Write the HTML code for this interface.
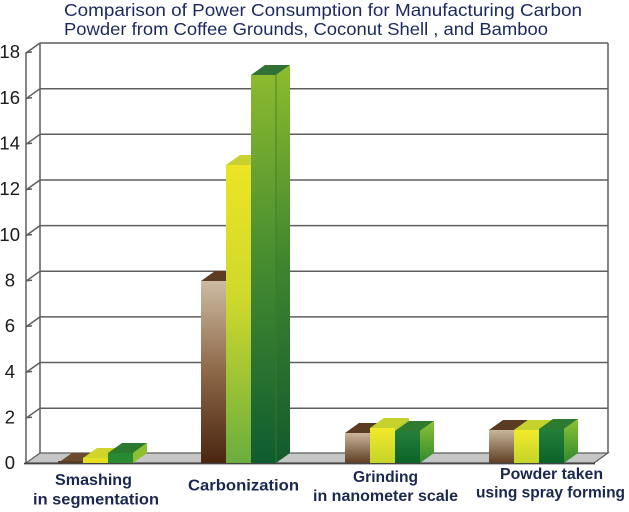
<!DOCTYPE html>
<html><head><meta charset="utf-8"><style>
html,body{margin:0;padding:0;background:#fff;}
svg{display:block;}
</style></head><body>
<svg width="629" height="512" viewBox="0 0 629 512" xmlns="http://www.w3.org/2000/svg">
<defs>
<linearGradient id="brT" x1="0" y1="0" x2="0" y2="1"><stop offset="0" stop-color="#ccbba2"/><stop offset="0.5" stop-color="#8d6747"/><stop offset="1" stop-color="#4a2611"/></linearGradient>
<linearGradient id="brS" x1="0" y1="0" x2="0" y2="1"><stop offset="0" stop-color="#c9b69c"/><stop offset="1" stop-color="#5e3e24"/></linearGradient>
<linearGradient id="yeT" x1="0" y1="0" x2="0" y2="1"><stop offset="0" stop-color="#ece424"/><stop offset="0.45" stop-color="#cfd82c"/><stop offset="1" stop-color="#6aae3e"/></linearGradient>
<linearGradient id="yeS" x1="0" y1="0" x2="0" y2="1"><stop offset="0" stop-color="#f2ea2a"/><stop offset="1" stop-color="#c6d42a"/></linearGradient>
<linearGradient id="grT" x1="0" y1="0" x2="0" y2="1"><stop offset="0" stop-color="#8cba2e"/><stop offset="0.45" stop-color="#4a8f30"/><stop offset="1" stop-color="#0f5c30"/></linearGradient>
<linearGradient id="grTs" x1="0" y1="0" x2="0" y2="1"><stop offset="0" stop-color="#8ebc2e"/><stop offset="0.5" stop-color="#3f852f"/><stop offset="1" stop-color="#135a2e"/></linearGradient>
<linearGradient id="grS" x1="0" y1="0" x2="0" y2="1"><stop offset="0" stop-color="#23803a"/><stop offset="1" stop-color="#0c6329"/></linearGradient>
<linearGradient id="grSs" x1="0" y1="0" x2="0" y2="1"><stop offset="0" stop-color="#8ec232"/><stop offset="1" stop-color="#2e8a30"/></linearGradient>
</defs>

<!-- title -->
<text x="64" y="16" font-family="Liberation Sans, sans-serif" font-size="17.5" fill="#1b2a5e" textLength="518" lengthAdjust="spacingAndGlyphs">Comparison of Power Consumption for Manufacturing Carbon</text>
<text x="64" y="35" font-family="Liberation Sans, sans-serif" font-size="17.5" fill="#1b2a5e" textLength="484" lengthAdjust="spacingAndGlyphs">Powder from Coffee Grounds, Coconut Shell , and Bamboo</text>

<!-- back wall gridlines -->
<g stroke="#5e5e5e" stroke-width="1.5" fill="none">
<line x1="40" y1="43" x2="608" y2="43"/>
<line x1="40" y1="88.7" x2="608" y2="88.7"/>
<line x1="40" y1="134.3" x2="608" y2="134.3"/>
<line x1="40" y1="180" x2="608" y2="180"/>
<line x1="40" y1="225.6" x2="608" y2="225.6"/>
<line x1="40" y1="271.2" x2="608" y2="271.2"/>
<line x1="40" y1="316.9" x2="608" y2="316.9"/>
<line x1="40" y1="362.5" x2="608" y2="362.5"/>
<line x1="40" y1="408.2" x2="608" y2="408.2"/>
<line x1="608" y1="43" x2="608" y2="453"/>
<line x1="40" y1="43" x2="40" y2="453"/>
<line x1="26" y1="52" x2="26" y2="463"/>
<line x1="26" y1="53" x2="40" y2="43"/>
<line x1="26" y1="98.7" x2="40" y2="88.7"/>
<line x1="26" y1="144.3" x2="40" y2="134.3"/>
<line x1="26" y1="190" x2="40" y2="180"/>
<line x1="26" y1="235.6" x2="40" y2="225.6"/>
<line x1="26" y1="281.2" x2="40" y2="271.2"/>
<line x1="26" y1="326.9" x2="40" y2="316.9"/>
<line x1="26" y1="372.5" x2="40" y2="362.5"/>
<line x1="26" y1="418.2" x2="40" y2="408.2"/>
<line x1="26" y1="52.5" x2="32" y2="52"/>
<line x1="26" y1="98.2" x2="32" y2="97.7"/>
<line x1="26" y1="143.8" x2="32" y2="143.3"/>
<line x1="26" y1="189.5" x2="32" y2="189"/>
<line x1="26" y1="235.1" x2="32" y2="234.6"/>
<line x1="26" y1="280.7" x2="32" y2="280.2"/>
<line x1="26" y1="326.4" x2="32" y2="325.9"/>
<line x1="26" y1="372" x2="32" y2="371.5"/>
<line x1="26" y1="417.7" x2="32" y2="417.2"/>
</g>

<!-- floor -->
<polygon points="26,463 594,463 608,453 40,453" fill="#c6c6c6" stroke="#5e5e5e" stroke-width="1.2"/>
<line x1="24" y1="463.5" x2="595" y2="463.5" stroke="#444" stroke-width="1.8"/>

<!-- y labels -->
<g font-family="Liberation Sans, sans-serif" font-size="18.5" fill="#1a1a1a" text-anchor="end">
<text x="20" y="58">18</text>
<text x="20" y="104">16</text>
<text x="20" y="149.5">14</text>
<text x="20" y="195">12</text>
<text x="20" y="241">10</text>
<text x="15" y="286.5">8</text>
<text x="15" y="332">6</text>
<text x="15" y="378">4</text>
<text x="15" y="423.5">2</text>
<text x="15" y="469">0</text>
</g>

<!-- Smashing -->
<g>
<polygon points="58,463 83,463 97,453 72,453" fill="#6b4b30"/>
<rect x="58" y="461" width="25" height="2" fill="#5a3a22"/>
<polygon points="83,458 108,458 122,448 97,448" fill="#cfd52c"/>
<rect x="83" y="458" width="25" height="5" fill="#e4e020"/>
<polygon points="108,453 133,453 147,443 122,443" fill="#2c7a30"/>
<polygon points="133,453 147,443 147,453 133,463" fill="#8cc030"/>
<rect x="108" y="453" width="25" height="10" fill="#2a8a32"/>
</g>

<!-- Carbonization -->
<g>
<polygon points="201,281 226,281 240,271 215,271" fill="#5c3c22"/>
<rect x="201" y="281" width="25" height="182" fill="url(#brT)"/>
<polygon points="226,165 251,165 265,155 240,155" fill="#c8d032"/>
<polygon points="251,165 265,155 265,453 251,463" fill="#b8c830"/>
<rect x="226" y="165" width="25" height="298" fill="url(#yeT)"/>
<polygon points="251,75 276,75 290,65 265,65" fill="#2f7232"/>
<polygon points="276,75 290,65 290,453 276,463" fill="url(#grTs)"/>
<rect x="251" y="75" width="25" height="388" fill="url(#grT)"/>
<line x1="276" y1="75" x2="276" y2="463" stroke="#3a7a2a" stroke-width="0.8"/>
</g>

<!-- Grinding -->
<g>
<polygon points="345,433 370,433 384,423 359,423" fill="#5a3c22"/>
<rect x="345" y="433" width="25" height="30" fill="url(#brS)"/>
<polygon points="370,428 395,428 409,418 384,418" fill="#c6d22c"/>
<polygon points="395,428 409,418 409,453 395,463" fill="#b8cc2c"/>
<rect x="370" y="428" width="25" height="35" fill="url(#yeS)"/>
<polygon points="395,431 420,431 434,421 409,421" fill="#2e7a30"/>
<polygon points="420,431 434,421 434,453 420,463" fill="url(#grSs)"/>
<rect x="395" y="431" width="25" height="32" fill="url(#grS)"/>
</g>

<!-- Powder -->
<g>
<polygon points="489,430 514,430 528,420 503,420" fill="#5a3c22"/>
<rect x="489" y="430" width="25" height="33" fill="url(#brS)"/>
<polygon points="514,430 539,430 553,420 528,420" fill="#c6d22c"/>
<polygon points="539,430 553,420 553,453 539,463" fill="#b8cc2c"/>
<rect x="514" y="430" width="25" height="33" fill="url(#yeS)"/>
<polygon points="539,429 564,429 578,419 553,419" fill="#2e7a30"/>
<polygon points="564,429 578,419 578,453 564,463" fill="url(#grSs)"/>
<rect x="539" y="429" width="25" height="34" fill="url(#grS)"/>
</g>

<!-- category labels -->
<g font-family="Liberation Sans, sans-serif" font-size="16" font-weight="bold" fill="#1a2850">
<text x="55" y="485" textLength="77" lengthAdjust="spacingAndGlyphs">Smashing</text>
<text x="33" y="504.5" textLength="126" lengthAdjust="spacingAndGlyphs">in segmentation</text>
<text x="188" y="490.5" textLength="111" lengthAdjust="spacingAndGlyphs">Carbonization</text>
<text x="353" y="482" textLength="65" lengthAdjust="spacingAndGlyphs">Grinding</text>
<text x="313" y="501" textLength="145" lengthAdjust="spacingAndGlyphs">in nanometer scale</text>
<text x="500" y="479" textLength="103" lengthAdjust="spacingAndGlyphs">Powder taken</text>
<text x="476" y="497.5" textLength="149" lengthAdjust="spacingAndGlyphs">using spray forming</text>
</g>
</svg>
</body></html>
